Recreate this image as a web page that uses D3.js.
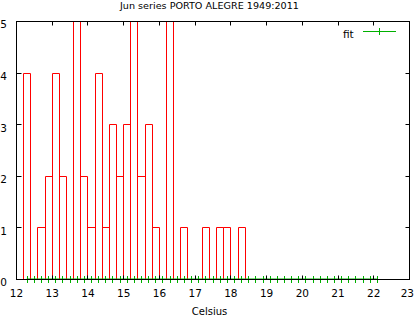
<!DOCTYPE html>
<html><head><meta charset="utf-8">
<script src="https://cdn.jsdelivr.net/npm/d3@7"></script>
<style>
body{margin:0;background:#fff;}
svg{display:block;}
text{font-family:"DejaVu Sans",sans-serif;fill:#000;}
</style></head>
<body>
<svg id="c" width="414" height="318"></svg>
<script>
// Data
const titleText = "Jun series PORTO ALEGRE 1949:2011";
const xLabel = "Celsius";
const binWidth = 0.2;
const binStarts = [12.2,12.4,12.6,12.8,13.0,13.2,13.4,13.6,13.8,14.0,14.2,14.4,14.6,14.8,15.0,15.2,15.4,15.6,15.8,16.0,16.2,16.4,16.6,16.8,17.0,17.2,17.4,17.6,17.8,18.0,18.2];
const counts    = [4,0,1,2,4,2,0,5,2,1,4,1,3,2,3,5,2,3,1,0,5,0,1,0,0,1,0,1,1,0,1];
const fitX = [12.3,12.5,12.7,12.9,13.1,13.3,13.5,13.7,13.9,14.1,14.3,14.5,14.7,14.9,15.1,15.3,15.5,15.7,15.9,16.1,16.3,16.5,16.7,16.9,17.1,17.3,17.5,17.7,17.9,18.1,18.3,18.5,18.7,18.9,19.1,19.3,19.5,19.7,19.9,20.1,20.3,20.5,20.7,20.9,21.1,21.3,21.5,21.7,21.9,22.1];
const fitY = [0,0,0,0,0,0,0,0,0,0,0,0,0,0,0,0,0,0,0,0,0,0,0,0,0,0,0,0,0,0,0,0,0,0,0,0,0,0,0,0,0,0,0,0,0,0,0,0,0,0];
const xTicks = [12,13,14,15,16,17,18,19,20,21,22,23];
const yTicks = [0,1,2,3,4,5];

const svg = d3.select("#c");
const L=16, R=409, T=21, B=279;
const x = d3.scaleLinear().domain([12,23]).range([L,R]);
const y = d3.scaleLinear().domain([0,5]).range([B,T]);
const RED="#ff0000", GREEN="#00b000";

svg.append("defs").append("clipPath").attr("id","clip")
  .append("rect").attr("x",L).attr("y",T).attr("width",R-L).attr("height",B-T);

// histogram boxes
const g = svg.append("g").attr("clip-path","url(#clip)");
binStarts.forEach((s,i)=>{
  if(counts[i]<=0) return;
  const x0=Math.round(x(s))+0.5, x1=Math.round(x(s+binWidth))+0.5;
  const yt=Math.round(y(counts[i]))+0.5, yb=Math.round(y(0))+0.5;
  g.append("path").attr("d",`M${x0},${yb}V${yt}H${x1}V${yb}`)
    .attr("fill","none").attr("stroke",RED).attr("stroke-width",1);
});

// fit line + markers
const fitLine = d3.line().x(d=>x(d[0])).y(d=>y(d[1]));
const fitData = fitX.map((v,i)=>[v,fitY[i]]);
svg.append("path").datum(fitData).attr("d",fitLine).attr("fill","none").attr("stroke",GREEN);
fitData.forEach(d=>{
  const px=Math.round(x(d[0]))+0.5, py=Math.round(y(d[1]))+0.5;
  svg.append("path").attr("d",`M${px},${py-3.5}V${py+3.5}M${px-3.5},${py}H${px+3.5}`)
    .attr("stroke",GREEN).attr("stroke-width",1).attr("fill","none");
});

// ticks (inward) and border
const tk = svg.append("g").attr("stroke","#000").attr("stroke-width",1);
xTicks.forEach(t=>{
  const px=Math.round(x(t))+0.5;
  tk.append("line").attr("x1",px).attr("x2",px).attr("y1",B+0.5).attr("y2",B+0.5-4);
  tk.append("line").attr("x1",px).attr("x2",px).attr("y1",T+0.5).attr("y2",T+0.5+4);
});
yTicks.forEach(t=>{
  const py=Math.round(y(t))+0.5;
  tk.append("line").attr("x1",L+0.5).attr("x2",L+0.5+5).attr("y1",py).attr("y2",py);
  tk.append("line").attr("x1",R+0.5).attr("x2",R+0.5-4).attr("y1",py).attr("y2",py);
});
svg.append("rect").attr("x",L+0.5).attr("y",T+0.5).attr("width",R-L).attr("height",B-T)
  .attr("fill","none").attr("stroke","#000");

// axis labels via d3 axes (no lines)
const xa = svg.append("g").attr("transform",`translate(0,${B})`)
  .call(d3.axisBottom(x).tickValues(xTicks).tickSize(0).tickPadding(11).tickFormat(d3.format("d")));
xa.select(".domain").remove();
xa.selectAll("text").attr("font-size",10.5).attr("font-family","DejaVu Sans");
// keep last label inside the canvas
xa.selectAll(".tick").filter(d=>d===23).select("text").attr("text-anchor","end").attr("dx",4.5);
const ya = svg.append("g").attr("transform",`translate(${L},0)`)
  .call(d3.axisLeft(y).tickValues(yTicks).tickSize(0).tickPadding(9).tickFormat(d3.format("d")));
ya.select(".domain").remove();
ya.selectAll("text").attr("font-size",10.5).attr("font-family","DejaVu Sans").attr("dy","0.65em");

// title
svg.append("text").attr("x",209.5).attr("y",9).attr("text-anchor","middle")
  .attr("font-size",9.5).attr("textLength",179).attr("lengthAdjust","spacingAndGlyphs").text(titleText);
// x label
svg.append("text").attr("x",209.5).attr("y",315).attr("text-anchor","middle")
  .attr("font-size",10).text(xLabel);

// legend
svg.append("text").attr("x",343).attr("y",37.5).attr("font-size",10.5).text("fit");
svg.append("line").attr("x1",363).attr("x2",396).attr("y1",31.5).attr("y2",31.5).attr("stroke",GREEN);
svg.append("line").attr("x1",379.5).attr("x2",379.5).attr("y1",28).attr("y2",35).attr("stroke",GREEN);
</script>
</body></html>
